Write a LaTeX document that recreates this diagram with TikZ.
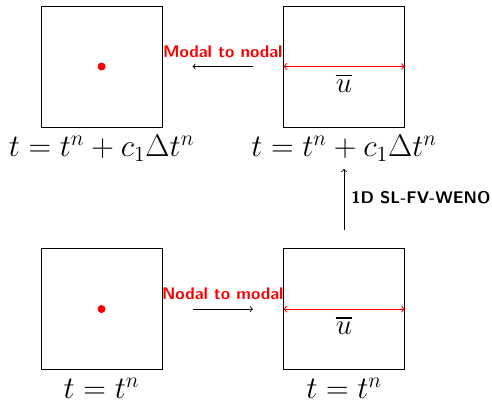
\documentclass[tikz,border=0pt]{standalone}
\usepackage{amsmath}
\usetikzlibrary{positioning,calc}

\begin{document}
\begin{tikzpicture}[
    cell/.style={rectangle, draw, minimum width=3.025cm, minimum height=3.025cm, inner sep=0pt},
    timelabel/.style={font=\huge, scale=1.075, inner sep=2pt},
    steplabel/.style={font=\large\sffamily\bfseries, inner sep=2pt},
    avglabel/.style={font=\huge, text=black},
    nodedot/.style={circle, fill=red, minimum size=0.2cm, inner sep=0pt},
    node distance=3.025cm,
    >=to,
  ]
  \useasboundingbox (0,0) rectangle (12.3,9.975);

  % --- cells ---
  \node[cell] (cellNa) at (2.5375,8.3125) {};
  \node[cell, right=of cellNa] (cellMa) {};
  \node[cell, below=of cellNa] (cellNb) {};
  \node[cell, below=of cellMa] (cellMb) {};

  % --- time labels ---
  \node[timelabel, below=0.12cm of cellNa] (labNa) {$t = t^n + c_1 \Delta t^n$};
  \node[timelabel, below=0.12cm of cellMa] (labMa) {$t = t^n + c_1 \Delta t^n$};
  \node[timelabel, below=0.12cm of cellNb] (labNb) {$t = t^n$};
  \node[timelabel, below=0.12cm of cellMb] (labMb) {$t = t^n$};

  % nodal values
  \node[nodedot] (dotNa) at (cellNa.center) {};
  \node[nodedot] (dotNb) at (cellNb.center) {};

  % cell averages
  \draw[<->, red, thick] (cellMa.west) -- (cellMa.east) node[midway, below=0.05cm, avglabel] (avgMa) {$\overline{u}$};
  \draw[<->, red, thick] (cellMb.west) -- (cellMb.east) node[midway, below=0.05cm, avglabel] (avgMb) {$\overline{u}$};

  % --- conversions ---
  \coordinate (mnA) at ($(cellNa.east)!0.25!(cellMa.west)$);
  \coordinate (mnB) at ($(cellNa.east)!0.75!(cellMa.west)$);
  \coordinate (nmA) at ($(cellNb.east)!0.25!(cellMb.west)$);
  \coordinate (nmB) at ($(cellNb.east)!0.75!(cellMb.west)$);
  \draw[->, semithick] (mnB) -- (mnA) node[midway, above=0.15cm, steplabel, text=red] {Modal to nodal};
  \draw[->, semithick] (nmA) -- (nmB) node[midway, above=0.15cm, steplabel, text=red] {Nodal to modal};

  % sweep
  \coordinate (sweep) at ($(cellMb.north)+(0,0.45)$);
  \draw[->, semithick, shorten >=0.1cm] (sweep) -- (labMa.south) node[midway, right=0.1cm, steplabel] {1D SL-FV-WENO};
\end{tikzpicture}
\end{document}
